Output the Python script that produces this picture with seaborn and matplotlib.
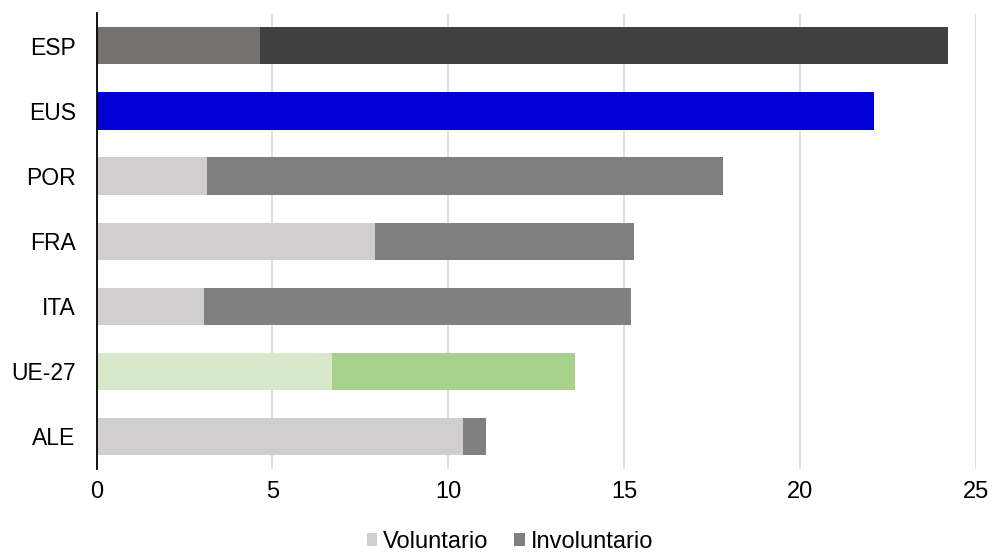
import matplotlib
matplotlib.use("Agg")
import matplotlib.pyplot as plt
from matplotlib.patches import Patch
import seaborn as sns
import pandas as pd

categories = ["ESP", "EUS", "POR", "FRA", "ITA", "UE-27", "ALE"]
voluntario = [4.65, 0.0, 3.14, 7.91, 3.06, 6.69, 10.43]
involuntario = [19.55, 22.10, 14.67, 7.36, 12.13, 6.91, 0.65]
x_ticks = [0, 5, 10, 15, 20, 25]

vol_colors = ["#767171", "#0000D6", "#D0CECF", "#D0CECF", "#D0CECF", "#D8E9CB", "#D0CECF"]
inv_colors = ["#404040", "#0000D6", "#808080", "#808080", "#808080", "#A9D18E", "#808080"]

df = pd.DataFrame({"cat": categories, "vol": voluntario, "inv": involuntario})
df["total"] = df["vol"] + df["inv"]

sns.set_theme(style="white")
plt.rcParams["font.family"] = ["Liberation Sans", "DejaVu Sans"]
plt.rcParams["text.color"] = "black"
plt.rcParams["xtick.color"] = "black"
plt.rcParams["ytick.color"] = "black"

fig = plt.figure(figsize=(9.92, 5.53), dpi=100)
ax = fig.add_axes([96.5 / 992, (553 - 469) / 553, (976 - 96.5) / 992, (469 - 13.3) / 553])

sns.barplot(data=df, x="total", y="cat", hue="cat", palette=inv_colors, legend=False,
            width=0.57, orient="h", ax=ax, saturation=1, linewidth=0)
sns.barplot(data=df, x="vol", y="cat", hue="cat", palette=vol_colors, legend=False,
            width=0.57, orient="h", ax=ax, saturation=1, linewidth=0)

ax.set_xlim(0, 25)
ax.set_ylim(6.5, -0.5)
ax.set_xticks(x_ticks)
ax.set_xticklabels([str(t) for t in x_ticks], fontsize=17)
ax.tick_params(axis="y", labelsize=16.5, length=0, pad=15, labelcolor="black")
ax.tick_params(axis="x", length=0, pad=9, labelcolor="black")
ax.set_xlabel("")
ax.set_ylabel("")

for t in x_ticks[1:]:
    ax.axvline(t, color="#D9D9D9", linewidth=1.2, zorder=0)
ax.set_axisbelow(True)

for s in ["top", "right", "bottom"]:
    ax.spines[s].set_visible(False)
ax.spines["left"].set_color("black")
ax.spines["left"].set_linewidth(1.3)
ax.spines["left"].set_zorder(5)

handles = [Patch(facecolor="#D0CECF", edgecolor="none", label="Voluntario"),
           Patch(facecolor="#808080", edgecolor="none", label="Involuntario")]
fig.legend(handles=handles, loc="center", bbox_to_anchor=(510 / 992, 1 - 542 / 553),
           ncol=2, frameon=False, fontsize=17, handlelength=0.45, handleheight=0.45,
           handletextpad=0.25, columnspacing=1.1)

fig.savefig("out.png", dpi=100)
